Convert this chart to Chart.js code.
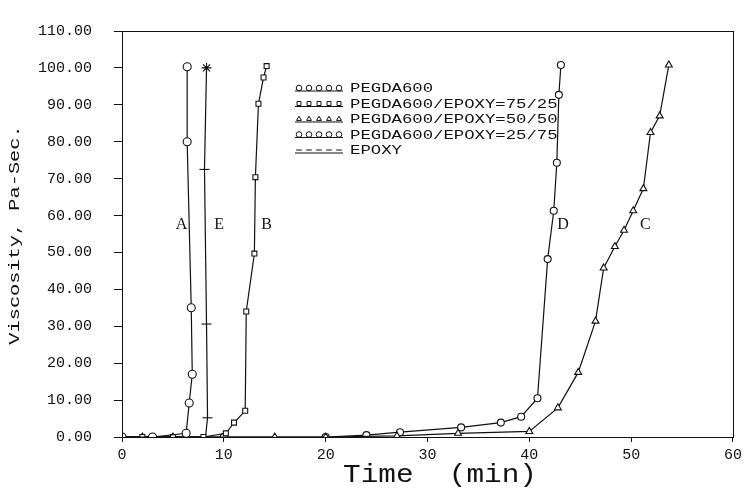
<!DOCTYPE html>
<html>
<head>
<meta charset="utf-8">
<script src="https://cdn.jsdelivr.net/npm/chart.js@4.4.1/dist/chart.umd.min.js"></script>
<style>
  html, body { margin: 0; padding: 0; background: #fff; }
  #wrap { width: 746px; height: 488px; }
</style>
</head>
<body>
<div id="wrap"><canvas id="viscChart" width="746" height="488"></canvas></div>
<script>
// ── Data ───────────────────────────────────────────────────────────────────
const timeA = [0, 3, 6.3, 6.6, 6.9, 6.8, 6.4, 6.4];
const viscA = [0, 0, 1, 9.2, 17, 35, 80, 100.3];

const timeB = [0, 2, 5, 8, 10.2, 11.0, 12.1, 12.2, 13.0, 13.1, 13.4, 13.9, 14.2];
const viscB = [0, 0, 0, 0, 1, 3.9, 7.1, 34, 49.7, 70.4, 90.3, 97.4, 100.5];

const timeC = [0, 2, 5, 15, 20, 27, 33, 40, 42.8, 44.8, 46.5, 47.3, 48.4, 49.3, 50.2, 51.2, 51.9, 52.8, 53.7];
const viscC = [0, 0, 0, 0, 0, 0.3, 1, 1.5, 7.9, 17.5, 31.4, 45.8, 51.6, 56, 61.3, 67.3, 82.5, 87, 100.8];

const timeD = [0, 3, 10, 20, 24, 27.3, 33.3, 37.2, 39.2, 40.8, 41.8, 42.4, 42.7, 42.9, 43.1];
const viscD = [0, 0, 0, 0, 0.5, 1.3, 2.6, 3.9, 5.5, 10.5, 48.2, 61.3, 74.3, 92.7, 100.8];

const timeE = [0, 2, 5, 8.2, 8.4, 8.3, 8.1, 8.3];
const viscE = [0, 0, 0, 0, 5.2, 30.6, 72.5, 100];

const seriesNames = ['PEGDA600', 'PEGDA600/EPOXY=75/25', 'PEGDA600/EPOXY=50/50', 'PEGDA600/EPOXY=25/75', 'EPOXY'];
const curveLetters = ['A', 'B', 'C', 'D', 'E'];
const letterTimes = [5.85, 14.2, 51.4, 43.3, 9.55];
const letterVisc = 57.4;

const xTicks = [0, 10, 20, 30, 40, 50, 60];
const yTicks = [0, 10, 20, 30, 40, 50, 60, 70, 80, 90, 100, 110];

const INK = '#111';
const MONO = '"Liberation Mono", "DejaVu Sans Mono", monospace';

function pairs(ts, vs) { return ts.map((t, i) => ({ x: t, y: vs[i] })); }

const styles = ['circle', 'rect', 'triangle', 'circle', 'line'];
const radii = [4, 3.5, 4, 3.5, 5];
const sets = [[timeA, viscA], [timeB, viscB], [timeC, viscC], [timeD, viscD], [timeE, viscE]];

// ── Extra drawing: frame, legend, curve letters, axis titles ───────────────
const decor = {
    id: 'decor',
    afterDraw(chart) {
        const { ctx, chartArea: a, scales } = chart;
        ctx.save();
        ctx.strokeStyle = INK;
        ctx.lineWidth = 1;
        ctx.strokeRect(a.left + 0.5, a.top + 0.5, a.right - a.left, a.bottom - a.top);

        // legend rows (hollow sample marks, like the plotter legend)
        ctx.textBaseline = 'middle';
        seriesNames.forEach((name, i) => {
            const y = 88 + i * 15.5;
            ctx.strokeStyle = INK;
            ctx.beginPath();
            ctx.moveTo(295, y + 3); ctx.lineTo(343, y + 3);
            ctx.stroke();
            ctx.fillStyle = '#fff';
            for (let k = 0; k < 5; k++) {
                Chart.helpers.drawPoint(ctx, {
                    pointStyle: styles[i], radius: 2.8, rotation: 0, borderWidth: 1
                }, 299 + k * 10, y);
            }
            ctx.fillStyle = INK;
            ctx.save();
            ctx.translate(350, y);
            ctx.scale(1.33, 1);
            ctx.font = '13px ' + MONO;
            ctx.textAlign = 'left';
            ctx.fillText(name, 0, 1);
            ctx.restore();
        });

        // curve letters
        ctx.fillStyle = INK;
        ctx.font = '16px "Liberation Serif", serif';
        ctx.textAlign = 'center';
        curveLetters.forEach((l, i) => {
            ctx.fillText(l, scales.x.getPixelForValue(letterTimes[i]), scales.y.getPixelForValue(letterVisc));
        });

        // axis titles
        ctx.save();
        ctx.translate(15, 235);
        ctx.rotate(-Math.PI / 2);
        ctx.scale(1.45, 1);
        ctx.font = '14px ' + MONO;
        ctx.fillText('Viscosity, Pa-Sec.', 0, 0);
        ctx.restore();

        ctx.save();
        ctx.translate(440, 475);
        ctx.scale(1.13, 1);
        ctx.font = '26px ' + MONO;
        ctx.fillText('Time  (min)', 0, 0);
        ctx.restore();
        ctx.restore();
    }
};

document.addEventListener('DOMContentLoaded', () => {
    new Chart(document.getElementById('viscChart').getContext('2d'), {
        type: 'scatter',
        data: {
            datasets: sets.map((s, i) => ({
                label: seriesNames[i],
                data: pairs(s[0], s[1]),
                showLine: true,
                borderColor: INK,
                borderWidth: 1.2,
                backgroundColor: '#fff',
                // epoxy run ends with a star mark at the top
                pointStyle: c => (i === 4 && c.dataIndex === s[0].length - 1) ? 'star' : styles[i],
                pointRadius: radii[i],
                pointBorderColor: INK,
                pointBorderWidth: 1.1,
                tension: 0
            }))
        },
        options: {
            responsive: false,
            animation: false,
            devicePixelRatio: 1,
            layout: { padding: { top: 17, right: 8, left: 0, bottom: 0 } },
            plugins: { legend: { display: false }, tooltip: { enabled: false } },
            scales: {
                x: {
                    type: 'linear', min: 0, max: 60,
                    afterFit: s => { s.height = 51; },
                    afterBuildTicks: s => { s.ticks = xTicks.map(v => ({ value: v })); },
                    grid: { drawOnChartArea: false, color: INK, tickLength: 5 },
                    border: { color: INK },
                    ticks: { color: INK, padding: 4, font: { family: MONO, size: 15 }, maxRotation: 0 }
                },
                y: {
                    type: 'linear', min: 0, max: 110,
                    afterFit: s => { s.width = 122; },
                    afterBuildTicks: s => { s.ticks = yTicks.map(v => ({ value: v })); },
                    grid: { drawOnChartArea: false, color: INK, tickLength: 8 },
                    border: { color: INK },
                    ticks: { color: INK, padding: 22, font: { family: MONO, size: 15 },
                             callback: v => Number(v).toFixed(2) }
                }
            }
        },
        plugins: [decor]
    });
});
</script>
</body>
</html>
